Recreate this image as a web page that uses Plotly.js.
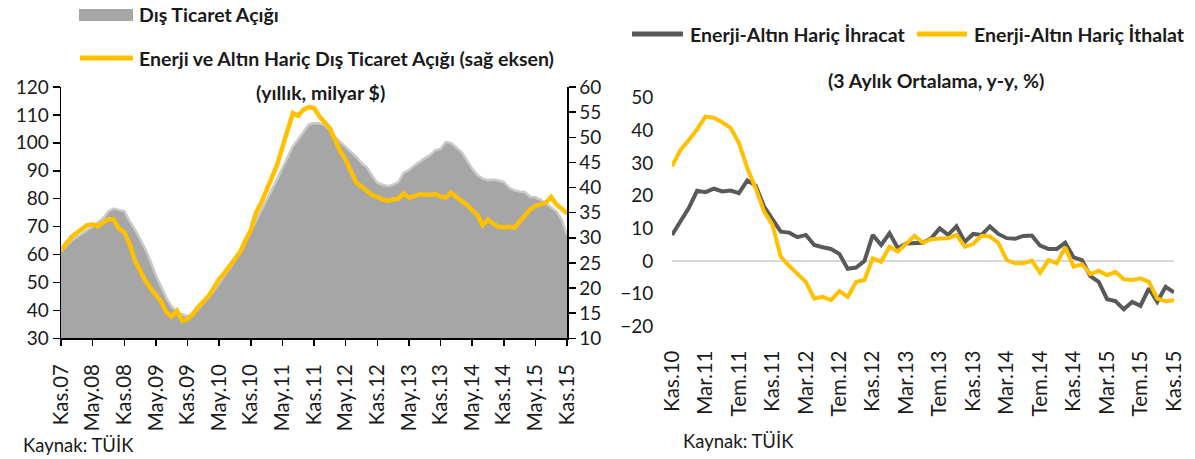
<!DOCTYPE html>
<html>
<head>
<meta charset="utf-8">
<script src="https://cdn.plot.ly/plotly-3.0.1.min.js"></script>
<style>
html,body{margin:0;padding:0;background:#ffffff;}
#chart{width:1195px;height:459px;}
</style>
</head>
<body>
<div id="chart"></div>
<script>
// ---------- category labels (Turkish month abbreviations) ----------
const monthNames = ['Oca','Şub','Mar','Nis','May','Haz','Tem','Ağu','Eyl','Eki','Kas','Ara'];
function monthLabels(startYear, startMonthIdx, count) {
  const out = [];
  for (let i = 0; i < count; i++) {
    const mi = (startMonthIdx + i) % 12;
    const yr = startYear + Math.floor((startMonthIdx + i) / 12);
    out.push(monthNames[mi] + '.' + String(yr % 100).padStart(2, '0'));
  }
  return out;
}
const leftCategories = monthLabels(2007, 10, 97);   // Kas.07 .. Kas.15
const rightCategories = monthLabels(2010, 10, 61);  // Kas.10 .. Kas.15

const leftTickLabels = ['Kas.07','May.08','Kas.08','May.09','Kas.09','May.10','Kas.10','May.11','Kas.11',
  'May.12','Kas.12','May.13','Kas.13','May.14','Kas.14','May.15','Kas.15'];
const rightTickLabels = ['Kas.10','Mar.11','Tem.11','Kas.11','Mar.12','Tem.12','Kas.12','Mar.13','Tem.13',
  'Kas.13','Mar.14','Tem.14','Kas.14','Mar.15','Tem.15','Kas.15'];

// ---------- left chart: annual trade deficit (bn $) ----------
const tradeDeficit = [
  61, 63, 65, 66.3, 67.5, 69, 70, 71.5, 73, 75.5,
  76.5, 76, 75.5, 72, 69, 65.5, 62, 57.5, 52.5, 48.5,
  44.5, 41.3, 39.5, 38.5, 38, 38.5, 40.5, 42.5, 44.5, 47,
  50, 52.5, 55, 58, 61, 64.5, 68.5, 72, 75.9, 79.5,
  83, 87, 91, 95, 98.8, 101.3, 104, 106.5, 107.1, 107,
  106.4, 104.5, 102, 100.3, 98.5, 96.7, 95, 92.8, 91.2, 88.3,
  85.7, 85, 84.5, 85, 86, 89.2, 90.2, 91.8, 93.2, 94.5,
  95.6, 97.3, 97.8, 100.3, 100, 98.5, 96.7, 93.8, 90.8, 88.5,
  87.2, 86.6, 86.9, 86.5, 86, 84, 83, 82.6, 82.4, 80.7,
  80.5, 79.7, 78.3, 77, 75.5, 72.5, 67
];
const coreDeficit = [
  27.5, 28.9, 30.2, 31, 31.7, 32.5, 32.7, 32.3, 33, 33.7,
  33.6, 31.8, 31.2, 28.8, 25.5, 23.5, 21.5, 20, 18.8, 17.3,
  15.2, 14.3, 15.5, 13.5, 13.8, 14.8, 16.2, 17.3, 18.4, 20,
  21.8, 23, 24.3, 25.8, 27.2, 29.5, 31.5, 35, 37, 39.5,
  42, 44.5, 48, 51.8, 54.8, 54.3, 55.5, 56, 55.8, 54.2,
  53, 51.8, 49.5, 47.2, 45.5, 43, 41, 40.2, 39.2, 38.5,
  38.2, 37.6, 37.4, 37.6, 37.8, 38.8, 38, 38.3, 38.6, 38.6,
  38.5, 38.7, 38.2, 38, 39, 38.1, 37.4, 36.6, 35.5, 34.6,
  32.5, 33.6, 32.8, 32.2, 32.1, 32.2, 32, 33.3, 34.6, 35.6,
  36.3, 36.7, 37, 38.1, 36.6, 35.8, 34.8
];

// ---------- right chart: 3-month average, y/y % ----------
const coreExports = [
  8, 12.1, 16.2, 21.5, 21.1, 22.2, 21.3, 21.6, 20.8, 24.7,
  23.1, 16.7, 12.6, 9, 8.7, 7.3, 8, 4.9, 4.2, 3.7,
  2.2, -2.4, -2, 0, 8, 4.9, 8.5, 3.9, 5.4, 5.4,
  5.6, 7, 10, 8, 10.6, 5.9, 8.3, 8, 10.6, 8.3,
  7, 6.8, 7.7, 7.8, 4.7, 3.7, 3.7, 5.6, 1.1, 0.3,
  -4.6, -6.4, -11.7, -12.3, -14.8, -12.5, -13.7, -8.4, -12.5, -7.9, -9.6
];
const coreImports = [
  29, 34, 37, 40.3, 44.2, 43.9, 42.5, 40.8, 36.2, 28.5,
  22.3, 15.2, 11.1, 1.3, -1.5, -3.8, -6.4, -11.5, -11, -12,
  -9.2, -11, -6.4, -5.8, 0.8, -0.2, 4.4, 2.9, 5.2, 7.7,
  5.6, 6.7, 6.9, 7, 8, 4.4, 5.2, 7.7, 7.5, 5.6,
  0.3, -0.7, -0.7, 0.1, -3.6, 0.3, -0.7, 4.2, -1.7, -1,
  -4, -3, -4.4, -3.3, -5.6, -5.8, -5.3, -6.4, -11.5, -12.3, -12
];

const legendLeft = ['Dış Ticaret Açığı', 'Enerji ve Altın Hariç Dış Ticaret Açığı (sağ eksen)'];
const legendRight = ['Enerji-Altın Hariç İhracat', 'Enerji-Altın Hariç İthalat'];
const titleLeft = '(yıllık, milyar $)';
const titleRight = '(3 Aylık Ortalama, y-y, %)';
const sourceText = 'Kaynak: TÜİK';

// ---------- layout helpers ----------
const W = 1195, H = 459;
const px = x => x / W;
const py = y => 1 - y / H;

const FONT = 'Lato, "Open Sans", "DejaVu Sans", sans-serif';
const TXT = '#1a1a1a';
const GREY_AREA = '#a6a6a6';
const YELLOW = '#ffc000';
const DARK = '#595959';

const traces = [
  {
    x: leftCategories, y: tradeDeficit, type: 'scatter', mode: 'lines',
    fill: 'tozeroy', fillcolor: GREY_AREA,
    line: {color: '#cacaca', width: 2.5},
    xaxis: 'x', yaxis: 'y', name: legendLeft[0]
  },
  {
    x: leftCategories, y: coreDeficit, type: 'scatter', mode: 'lines',
    line: {color: YELLOW, width: 4.5},
    xaxis: 'x', yaxis: 'y2', name: legendLeft[1]
  },
  {
    x: rightCategories, y: coreExports, type: 'scatter', mode: 'lines',
    line: {color: DARK, width: 4},
    xaxis: 'x2', yaxis: 'y3', name: legendRight[0]
  },
  {
    x: rightCategories, y: coreImports, type: 'scatter', mode: 'lines',
    line: {color: YELLOW, width: 4},
    xaxis: 'x2', yaxis: 'y3', name: legendRight[1]
  }
];

const tickFont = {family: FONT, size: 19, color: TXT};
const xTickFont = {family: FONT, size: 20.5, color: TXT};
const boldFont = {family: FONT, size: 19.5, color: TXT};

const layout = {
  width: W, height: H,
  margin: {l: 0, r: 0, t: 0, b: 0},
  paper_bgcolor: '#ffffff', plot_bgcolor: 'rgba(0,0,0,0)',
  showlegend: false,
  font: {family: FONT, color: TXT},
  xaxis: {
    type: 'category', domain: [px(61), px(567)], anchor: 'y',
    range: [0, 96], tickmode: 'array', tickvals: leftTickLabels, ticktext: leftTickLabels,
    tickangle: -90, ticks: 'outside', ticklen: 6, tickwidth: 1.5, tickcolor: '#000',
    ticklabelstandoff: 10,
    showline: true, linecolor: '#000', linewidth: 1.5, showgrid: false, zeroline: false,
    tickfont: xTickFont
  },
  yaxis: {
    domain: [py(338.3), py(87)], anchor: 'x', range: [30, 120], dtick: 10, tick0: 30,
    ticks: 'outside', ticklen: 7, tickwidth: 1.5, tickcolor: '#000',
    showline: true, linecolor: '#000', linewidth: 1.5, showgrid: false, zeroline: false,
    tickfont: tickFont
  },
  yaxis2: {
    overlaying: 'y', side: 'right', anchor: 'x', range: [10, 60], dtick: 5, tick0: 10,
    ticks: 'outside', ticklen: 7, tickwidth: 1.5, tickcolor: '#000',
    showline: true, linecolor: '#000', linewidth: 1.5, showgrid: false, zeroline: false,
    tickfont: tickFont
  },
  xaxis2: {
    type: 'category', domain: [px(672), px(1174)], anchor: 'y3',
    range: [0, 60], tickmode: 'array', tickvals: rightTickLabels, ticktext: rightTickLabels,
    tickangle: -90, ticks: 'outside', ticklen: 15, tickcolor: 'rgba(0,0,0,0)',
    showline: false, showgrid: false, zeroline: false,
    tickfont: xTickFont
  },
  yaxis3: {
    domain: [py(326.3), py(97.8)], anchor: 'x2', range: [-20, 50], dtick: 10, tick0: -20,
    ticks: 'outside', ticklen: 14, tickcolor: 'rgba(0,0,0,0)',
    showline: false, showgrid: false,
    zeroline: true, zerolinecolor: '#d9d9d9', zerolinewidth: 2,
    tickfont: tickFont
  },
  shapes: [
    {type: 'rect', xref: 'paper', yref: 'paper', x0: px(79), x1: px(133), y0: py(21), y1: py(9),
     fillcolor: GREY_AREA, line: {width: 0}},
    {type: 'line', xref: 'paper', yref: 'paper', x0: px(80), x1: px(133), y0: py(58), y1: py(58),
     line: {color: YELLOW, width: 5}},
    {type: 'line', xref: 'paper', yref: 'paper', x0: px(632), x1: px(683), y0: py(34), y1: py(34),
     line: {color: DARK, width: 5}},
    {type: 'line', xref: 'paper', yref: 'paper', x0: px(917), x1: px(967), y0: py(34), y1: py(34),
     line: {color: YELLOW, width: 5}}
  ],
  annotations: [
    {xref: 'paper', yref: 'paper', x: px(137), y: py(15), xanchor: 'left', yanchor: 'middle',
     text: '<b>' + legendLeft[0] + '</b>', showarrow: false, font: boldFont},
    {xref: 'paper', yref: 'paper', x: px(137), y: py(58), xanchor: 'left', yanchor: 'middle',
     text: '<b>' + legendLeft[1] + '</b>', showarrow: false, font: boldFont},
    {xref: 'paper', yref: 'paper', x: px(320), y: py(93), xanchor: 'center', yanchor: 'middle',
     text: '<b>' + titleLeft + '</b>', showarrow: false, font: boldFont},
    {xref: 'paper', yref: 'paper', x: px(688), y: py(34), xanchor: 'left', yanchor: 'middle',
     text: '<b>' + legendRight[0] + '</b>', showarrow: false, font: boldFont},
    {xref: 'paper', yref: 'paper', x: px(972), y: py(34), xanchor: 'left', yanchor: 'middle',
     text: '<b>' + legendRight[1] + '</b>', showarrow: false, font: boldFont},
    {xref: 'paper', yref: 'paper', x: px(936), y: py(80), xanchor: 'center', yanchor: 'middle',
     text: '<b>' + titleRight + '</b>', showarrow: false, font: boldFont},
    {xref: 'paper', yref: 'paper', x: px(21), y: py(445), xanchor: 'left', yanchor: 'middle',
     text: sourceText, showarrow: false, font: {family: FONT, size: 18.5, color: TXT}},
    {xref: 'paper', yref: 'paper', x: px(681), y: py(441), xanchor: 'left', yanchor: 'middle',
     text: sourceText, showarrow: false, font: {family: FONT, size: 18.5, color: TXT}}
  ]
};

Plotly.newPlot('chart', traces, layout, {displayModeBar: false, staticPlot: true});
</script>
</body>
</html>
